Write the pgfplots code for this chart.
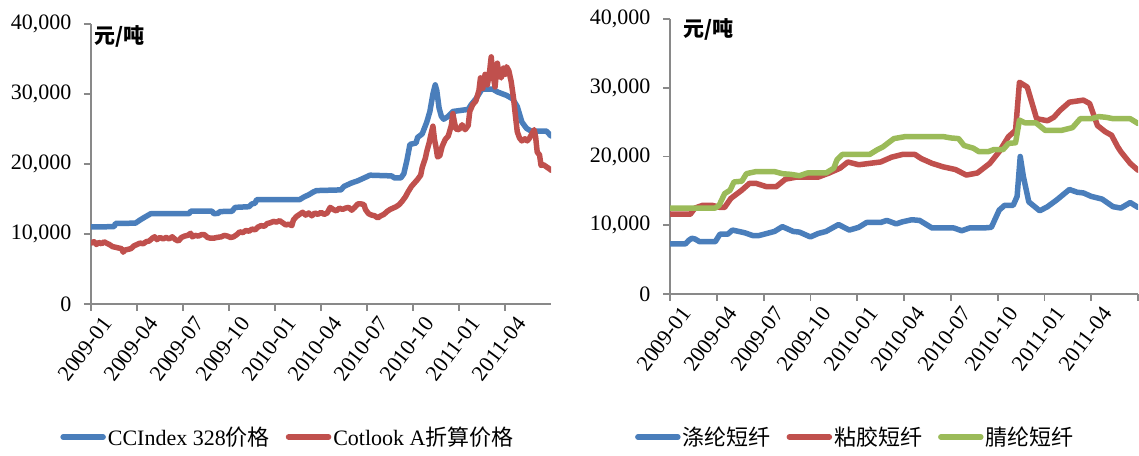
\documentclass[border=0pt]{standalone}
\usepackage{fontspec}
\setmainfont{Liberation Serif}
\newfontfamily\cjk{Noto Sans CJK SC}
\usepackage{pgfplots}
\pgfplotsset{compat=1.18}

\definecolor{cblue}{HTML}{4A7EBB}
\definecolor{cred}{HTML}{C0504D}
\definecolor{cgreen}{HTML}{9BBB59}
\definecolor{axgray}{HTML}{898989}

\newcommand{\tf}{\fontsize{22bp}{24bp}\selectfont}

\pgfplotsset{
  every axis/.append style={
    scale only axis,
    xmin=0, xmax=30, ymin=0, ymax=40000,
    axis lines=left,
    axis line style={draw=axgray, line width=1.8bp, -},
    tick style={draw=axgray, line width=1.8bp},
    tick align=outside,
    major tick length=7bp,
    ytick={0,10000,20000,30000,40000},
    scaled y ticks=false,
    /pgf/number format/.cd, 1000 sep={,}, assume math mode=true, /pgfplots/.cd,
    yticklabel style={font=\tf, xshift=-9bp},
    xticklabel style={font=\tf, rotate=53, anchor=east, xshift=6bp, yshift=-18bp},
    legend style={draw=none, fill=none, font=\tf, inner sep=0pt,
      /tikz/every even column/.append style={column sep=14bp}},
    legend image code/.code={\draw[#1, line width=5.5bp] (0bp,0bp) -- (40bp,0bp);},
    clip mode=individual,
    every axis plot/.append style={line width=5.5bp, line join=round, line cap=round},
  },
}

\begin{document}
\begin{tikzpicture}[x=1bp,y=1bp]
\useasboundingbox (0,0) rectangle (1139,456);

% left panel: cotton prices
\begin{axis}[
  at={(91bp,152bp)}, anchor=south west,
  width=460bp, height=280bp,
  xtick={0,3,...,27},
  xticklabels={2009-01,2009-04,2009-07,2009-10,2010-01,2010-04,2010-07,2010-10,2011-01,2011-04},
  legend columns=2,
  legend style={at={(-0.067,-0.475)}, anchor=west},
]
\addplot[cblue] coordinates {
(0,11000)(1.5,11050)(1.6,11500)(2.9,11550)(3.2,12000)(3.5,12400)(3.9,12900)(6.4,12900)
(6.5,13250)(7.9,13250)(8.0,12900)(8.3,12950)(8.4,13200)(9.2,13250)(9.4,13800)(10.3,13900)
(10.5,14300)(10.7,14400)(10.8,14900)(13.6,14900)(13.9,15300)(14.2,15600)(14.5,16000)(14.7,16200)
(16.3,16300)(16.5,16800)(17.0,17300)(17.4,17600)(17.8,18000)(18.2,18400)(19.6,18300)(19.8,18000)
(20.2,18000)(20.4,18600)(20.6,20500)(20.8,22800)(21.2,23000)(21.3,23800)(21.6,24300)(21.9,26000)
(22.1,27500)(22.3,30000)(22.45,31300)(22.55,30500)(22.7,28000)(22.85,26800)(23.0,26400)(23.3,26800)
(23.6,27500)(24.6,27800)(24.8,28500)(25.1,29300)(25.5,30700)(26.2,30700)(26.5,30300)(27.1,29800)
(27.5,29300)(27.8,28200)(28.1,26000)(28.4,25100)(28.7,24700)(29.7,24700)(30.0,24000)
};
\addlegendentry{CCIndex 328{\cjk 价格}}
\addplot[cred] coordinates {
(0,8700)(0.2,8900)(0.35,8500)(0.5,8800)(0.7,8600)(0.85,8900)(1.0,8700)(1.2,8500)(1.4,8200)
(1.6,8100)(1.8,8000)(2.0,7900)(2.1,7400)(2.2,7700)(2.4,7800)(2.6,7900)(2.8,8300)(3.0,8500)
(3.2,8700)(3.4,8600)(3.6,8900)(3.8,9000)(4.0,9400)(4.15,9600)(4.3,9200)(4.5,9500)(4.7,9300)
(4.9,9500)(5.1,9300)(5.3,9600)(5.5,9200)(5.7,9000)(5.9,9500)(6.1,9700)(6.3,9800)(6.5,10100)
(6.6,9600)(6.8,9800)(7.0,9700)(7.2,9900)(7.4,9900)(7.6,9500)(7.8,9400)(8.0,9400)(8.2,9500)
(8.5,9600)(8.7,9800)(8.9,9700)(9.1,9500)(9.3,9600)(9.5,9900)(9.7,10300)(9.9,10200)(10.1,10500)
(10.3,10400)(10.5,10700)(10.7,10600)(10.9,11000)(11.1,11200)(11.3,11100)(11.5,11500)(11.7,11600)
(11.9,11800)(12.1,11700)(12.3,11900)(12.5,11600)(12.7,11300)(12.9,11400)(13.1,11200)(13.2,12000)
(13.4,12500)(13.6,12800)(13.8,13100)(14.0,12700)(14.2,13000)(14.4,12600)(14.6,13000)(14.8,12800)
(15.0,13100)(15.2,12800)(15.4,13000)(15.6,13800)(15.8,13500)(16.0,13300)(16.2,13700)(16.4,13500)
(16.6,13700)(16.8,13800)(17.0,13400)(17.2,13800)(17.4,14300)(17.6,14300)(17.8,14200)(17.9,13500)
(18.1,12900)(18.3,12700)(18.5,12600)(18.7,12300)(18.9,12600)(19.1,12800)(19.3,13200)(19.5,13500)
(19.7,13700)(19.9,13900)(20.1,14200)(20.3,14700)(20.5,15300)(20.7,16100)(20.9,16800)(21.1,17300)
(21.3,17800)(21.5,18400)(21.6,19500)(21.8,20800)(21.9,21800)(22.05,23000)(22.2,24500)(22.3,25400)
(22.4,23500)(22.5,22400)(22.6,21000)(22.75,21200)(22.9,22500)(23.1,23500)(23.3,24000)(23.5,25500)
(23.6,27200)(23.7,26000)(23.8,25000)(24.0,24900)(24.2,25600)(24.4,24900)(24.6,25500)(24.7,27500)
(24.9,28500)(25.1,29000)(25.3,30500)(25.4,32300)(25.55,30800)(25.7,32800)(25.85,31300)(26.0,33300)
(26.1,35300)(26.2,33000)(26.35,31000)(26.5,34400)(26.6,33000)(26.75,32300)(26.9,33700)(27.0,32800)
(27.1,33900)(27.25,33300)(27.4,31800)(27.55,29500)(27.7,26500)(27.8,24600)(27.95,23700)(28.1,23300)
(28.3,23600)(28.45,23300)(28.6,23700)(28.75,24300)(28.9,24900)(29.0,23800)(29.1,21700)(29.25,21300)
(29.35,19800)(29.5,19900)(29.7,19600)(29.9,19300)(30.0,19100)
};
\addlegendentry{Cotlook A{\cjk 折算价格}}
\node[anchor=base west, inner sep=0pt, font={\fontsize{21bp}{22bp}\cjk\bfseries}]
  at (axis description cs:0.0065,0.932) {元/吨};
\end{axis}

% right panel: staple fibre prices
\begin{axis}[
  at={(670bp,162bp)}, anchor=south west,
  width=468bp, height=275bp,
  xtick={0,3,...,30},
  xticklabels={2009-01,2009-04,2009-07,2009-10,2010-01,2010-04,2010-07,2010-10,2011-01,2011-04,},
  legend columns=3,
  legend style={at={(-0.075,-0.52)}, anchor=west},
]
\addplot[cblue] coordinates {
(0,7300)(1.0,7300)(1.2,7800)(1.4,8100)(1.6,8000)(1.9,7600)(2.9,7600)(3.2,8700)(3.7,8700)
(4.0,9300)(4.8,8900)(5.3,8500)(5.7,8500)(6.2,8800)(6.7,9100)(7.2,9800)(7.9,9100)(8.3,9000)
(9.0,8300)(9.5,8800)(10.0,9100)(10.8,10100)(11.5,9300)(12.1,9700)(12.6,10400)(13.5,10400)
(13.9,10700)(14.5,10200)(14.9,10500)(15.5,10800)(16.0,10700)(16.8,9600)(18.2,9600)(18.7,9200)
(19.2,9600)(20.1,9600)(20.6,9700)(21.1,12200)(21.45,12900)(22.0,12900)(22.25,14200)(22.45,20000)
(22.65,17100)(23.0,13400)(23.7,12100)(24.2,12700)(24.8,13700)(25.6,15200)(26.1,14800)(26.5,14700)
(27.0,14200)(27.7,13800)(28.4,12700)(28.9,12500)(29.5,13300)(30,12600)
};
\addlegendentry{\cjk 涤纶短纤}
\addplot[cred] coordinates {
(0,11600)(1.3,11600)(1.6,12500)(2.1,12900)(2.7,12900)(3.2,12600)(3.5,12600)(3.9,13900)
(4.6,15100)(5.1,16100)(5.5,16100)(6.2,15600)(6.8,15600)(7.4,16700)(8.1,17000)(9.5,17000)
(10.2,17600)(10.9,18300)(11.4,19200)(12.1,18800)(12.8,19000)(13.5,19200)(14.2,19900)(14.9,20300)
(15.7,20300)(16.1,19700)(16.8,19000)(17.5,18500)(18.3,18100)(19.0,17300)(19.7,17600)(20.5,19000)
(21.1,20700)(21.7,22900)(22.15,23800)(22.4,30800)(22.9,30100)(23.5,25500)(24.2,25200)(24.6,25700)
(25.0,26700)(25.6,27900)(26.5,28200)(26.9,27700)(27.4,24500)(27.9,23600)(28.3,23100)(28.7,21400)
(28.9,20700)(29.5,19000)(30,18000)
};
\addlegendentry{\cjk 粘胶短纤}
\addplot[cgreen] coordinates {
(0,12500)(2.9,12500)(3.15,12900)(3.5,14600)(3.85,15100)(4.1,16300)(4.6,16400)(4.9,17500)
(5.5,17800)(6.7,17800)(7.2,17500)(7.75,17400)(8.3,17200)(8.8,17600)(10.0,17600)(10.5,18300)
(10.7,19500)(11.05,20300)(12.8,20300)(13.3,21000)(13.65,21400)(14.0,22000)(14.35,22600)(15.1,22900)
(17.5,22900)(18.0,22700)(18.5,22600)(18.85,21600)(19.45,21200)(19.8,20700)(20.4,20700)(20.75,21000)
(21.35,21000)(21.7,21900)(22.15,22000)(22.4,25300)(22.75,24900)(23.45,24900)(24.05,23800)(25.1,23800)
(25.8,24200)(26.3,25500)(27.0,25500)(27.5,25800)(27.95,25700)(28.4,25500)(29.5,25500)(30,24800)
};
\addlegendentry{\cjk 腈纶短纤}
\node[anchor=base west, inner sep=0pt, font={\fontsize{21bp}{22bp}\cjk\bfseries}]
  at (axis description cs:0.028,0.938) {元/吨};
\end{axis}
\end{tikzpicture}
\end{document}
